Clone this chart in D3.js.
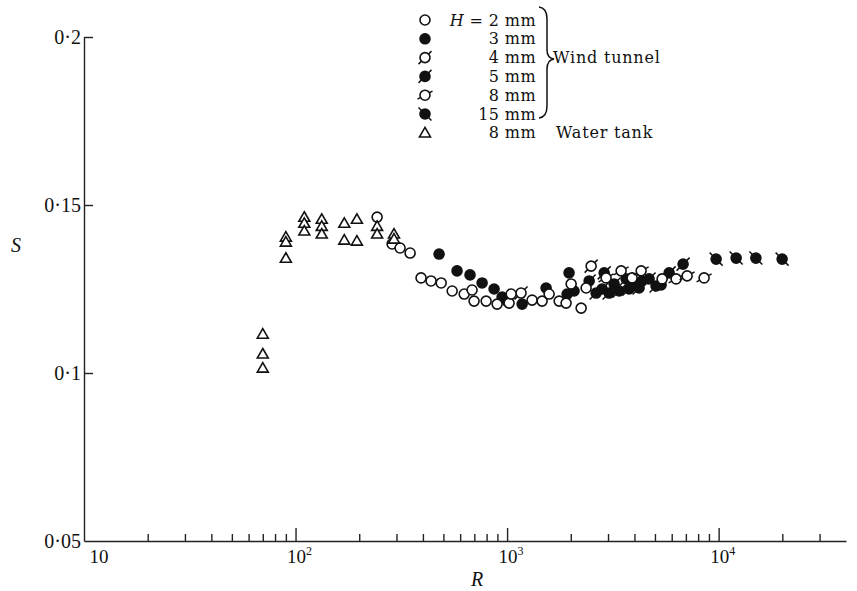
<!DOCTYPE html>
<html><head><meta charset="utf-8">
<script src="https://cdn.jsdelivr.net/npm/d3@7"></script>
<style>
html,body{margin:0;padding:0;background:#fff;}
svg{display:block;}
text{font-family:"Liberation Serif","DejaVu Serif",serif;fill:#111;}
.leg{font-family:"DejaVu Serif","Liberation Serif",serif;}
</style></head>
<body>
<svg id="chart" width="857" height="591"></svg>
<script>
// ---- data ----
const h2R = [243, 286, 312, 348, 392, 437, 488, 550, 627, 683, 698, 796, 897, 1022, 1045, 1313, 1464, 1580, 1762, 1901, 2008, 2239, 2364];
const h2S = [0.1464, 0.1384, 0.1372, 0.1357, 0.1283, 0.1274, 0.1268, 0.1244, 0.1235, 0.1247, 0.1214, 0.1214, 0.1205, 0.1208, 0.1235, 0.1217, 0.1214, 0.1235, 0.1214, 0.1208, 0.1265, 0.1193, 0.1253];
const h3R = [477, 580, 668, 762, 868, 947, 1000, 1178, 1529, 1922, 1963, 2073];
const h3S = [0.1354, 0.1304, 0.1292, 0.1268, 0.1250, 0.1226, 0.1214, 0.1205, 0.1253, 0.1235, 0.1298, 0.1244];
const h4R = [1164, 2496];
const h4S = [0.1238, 0.1318];
const h5R = [2443, 2636, 2813, 2877, 3035, 3206, 3388, 3656, 3773, 3899, 4207, 4346, 4690, 5061, 5346, 5834, 6792];
const h5S = [0.1274, 0.1238, 0.1250, 0.1298, 0.1238, 0.1265, 0.1244, 0.1280, 0.1250, 0.1259, 0.1253, 0.1274, 0.1280, 0.1259, 0.1262, 0.1298, 0.1324];
const h8R = [2938, 3459, 3899, 4301, 5405, 6295, 7096, 8536];
const h8S = [0.1283, 0.1304, 0.1283, 0.1304, 0.1280, 0.1280, 0.1289, 0.1283];
const h15R = [9731, 12100, 15000, 19960];
const h15S = [0.1339, 0.1342, 0.1342, 0.1339];
const tankR = [70, 70, 70, 90, 90, 90, 110, 110, 110, 133, 133, 133, 170, 170, 195, 195, 243, 243, 292, 292];
const tankS = [0.1116, 0.1057, 0.1015, 0.1405, 0.1390, 0.1342, 0.1464, 0.1446, 0.1423, 0.1458, 0.1437, 0.1414, 0.1446, 0.1396, 0.1458, 0.1393, 0.1437, 0.1414, 0.1414, 0.1399];

const legendLabels = ["2 mm", "3 mm", "4 mm", "5 mm", "8 mm", "15 mm", "8 mm"];
const yTickValues = [0.05, 0.1, 0.15, 0.2];
const yTickLabels = ["0·05", "0·1", "0·15", "0·2"];
const xMajorValues = [10, 100, 1000, 10000];
const xMajorExp = ["", "2", "3", "4"];

// ---- layout ----
const svg = d3.select("#chart");
const x = d3.scaleLog().domain([10, 40000]).range([84, 846]);
const y = d3.scaleLinear().domain([0.05, 0.2]).range([541, 37]);

const series = [
  {R: h15R, S: h15S, type: "filled", slash: "back"},
  {R: h5R, S: h5S, type: "filled", slash: "fwd"},
  {R: h3R, S: h3S, type: "filled"},
  {R: h8R, S: h8S, type: "open", slash: "flat"},
  {R: h4R, S: h4S, type: "open", slash: "fwd"},
  {R: h2R, S: h2S, type: "open"},
  {R: tankR, S: tankS, type: "tri"}
];

function drawMarker(g, cx, cy, s) {
  const r = 5;
  if (s.type === "tri") {
    g.append("path")
      .attr("d", d3.symbol(d3.symbolTriangle, 52)())
      .attr("transform", `translate(${cx},${cy + 1})`)
      .attr("fill", "#fff").attr("stroke", "#111").attr("stroke-width", 1.6);
    return;
  }
  if (s.slash) {
    let dx1, dy1, dx2, dy2;
    if (s.slash === "fwd") { dx1 = -6.5; dy1 = 6.5; dx2 = 6.5; dy2 = -6.5; }
    else if (s.slash === "back") { dx1 = -6.5; dy1 = -6.5; dx2 = 6.5; dy2 = 6.5; }
    else { dx1 = -7.5; dy1 = 4; dx2 = 7.5; dy2 = -4; }
    g.append("line")
      .attr("x1", cx + dx1).attr("y1", cy + dy1)
      .attr("x2", cx + dx2).attr("y2", cy + dy2)
      .attr("stroke", "#111").attr("stroke-width", 1.5);
  }
  g.append("circle").attr("cx", cx).attr("cy", cy).attr("r", r)
    .attr("fill", s.type === "filled" ? "#111" : "#fff")
    .attr("stroke", "#111").attr("stroke-width", 1.6);
}

// ---- axes ----
const minorX = [];
[10, 100, 1000, 10000].forEach(d => {
  for (let k = 2; k <= 9; k++) { const v = d * k; if (v <= 30000) minorX.push(v); }
});

const xAxisG = svg.append("g").attr("transform", `translate(0,${y(0.05)})`);
xAxisG.call(d3.axisBottom(x).tickValues(minorX).tickSize(-7).tickSizeOuter(0).tickFormat(""));
xAxisG.append("g").call(d3.axisBottom(x).tickValues([100, 1000, 10000]).tickSize(-13).tickSizeOuter(0).tickFormat(""))
  .select(".domain").remove();
xAxisG.selectAll("path,line").attr("stroke", "#222").attr("stroke-width", 1.4);

const yAxisG = svg.append("g").attr("transform", `translate(${x(10)},0)`);
yAxisG.call(d3.axisLeft(y).tickValues([0.1, 0.15, 0.2]).tickSize(-9).tickSizeOuter(0).tickFormat(""));
yAxisG.selectAll("path,line").attr("stroke", "#222").attr("stroke-width", 1.4);

// y tick labels
svg.append("g").selectAll("text").data(yTickValues).join("text")
  .attr("x", x(10) - 3)
  .attr("y", d => y(d) + 7)
  .attr("text-anchor", "end")
  .attr("font-size", 20)
  .text((d, i) => yTickLabels[i]);

// x tick labels
const xl = svg.append("g").selectAll("text").data(xMajorValues).join("text")
  .attr("x", d => x(d) + (d === 10 ? 15 : 4))
  .attr("y", 563)
  .attr("text-anchor", "middle")
  .attr("font-size", 19);
xl.append("tspan").text("10");
xl.filter((d, i) => xMajorExp[i] !== "").append("tspan")
  .attr("dy", -8).attr("font-size", 12).text((d) => xMajorExp[xMajorValues.indexOf(d)]);

// axis titles
svg.append("text").attr("x", 477).attr("y", 586).attr("font-size", 20)
  .attr("font-style", "italic").attr("text-anchor", "middle").text("R");
svg.append("text").attr("x", 16).attr("y", 252).attr("font-size", 20)
  .attr("font-style", "italic").attr("text-anchor", "middle").text("S");

// ---- markers ----
const mg = svg.append("g");
series.forEach(s => {
  s.R.forEach((rv, i) => drawMarker(mg, x(rv), y(s.S[i]), s));
});

// ---- legend ----
const legendSeries = [series[5], series[2], series[4], series[1], series[3], series[0], series[6]];
const lg = svg.append("g");
const rowY = i => 20 + i * 18.8;
legendSeries.forEach((s, i) => {
  drawMarker(lg, 425, rowY(i), s);
  const t = lg.append("text").attr("class", "leg").attr("x", 536).attr("y", rowY(i) + 5.5)
    .attr("text-anchor", "end").attr("font-size", 16).attr("letter-spacing", 0.4);
  if (i === 0) {
    t.append("tspan").attr("font-style", "italic").text("H");
    t.append("tspan").text(" = " + legendLabels[i]);
  } else {
    t.text(legendLabels[i]);
  }
});
// brace
lg.append("path")
  .attr("d", "M539,7 Q547,8 547,19 L547,50 Q547,58 554,59 Q547,60 547,69 L547,106 Q547,117 539,118")
  .attr("fill", "none").attr("stroke", "#111").attr("stroke-width", 1.5);
lg.append("text").attr("class", "leg").attr("x", 553).attr("y", rowY(2) + 5.5).attr("font-size", 16)
  .attr("letter-spacing", 0.8).text("Wind tunnel");
lg.append("text").attr("class", "leg").attr("x", 556).attr("y", rowY(6) + 5.5).attr("font-size", 16)
  .attr("letter-spacing", 0.8).text("Water tank");
</script>
</body></html>
